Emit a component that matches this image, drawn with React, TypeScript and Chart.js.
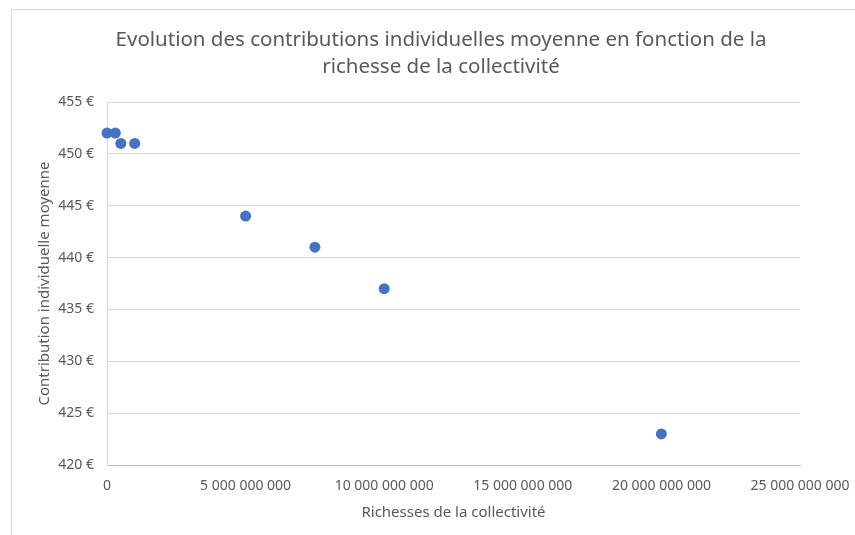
import React, { useEffect, useRef } from "react";
import { Chart, registerables } from "chart.js";

Chart.register(...registerables);

const TITLE = [
  "Evolution des contributions individuelles moyenne en fonction de la",
  "richesse de la collectivité",
];
const X_TITLE = "Richesses de la collectivité";
const Y_TITLE = "Contribution individuelle moyenne";

const richesses = [0, 300000000, 500000000, 1000000000, 5000000000, 7500000000, 10000000000, 20000000000];
const contributions = [452, 452, 451, 451, 444, 441, 437, 423];

const X_MIN = 0;
const X_MAX = 25000000000;
const X_STEP = 5000000000;
const Y_MIN = 420;
const Y_MAX = 455;
const Y_STEP = 5;

const FONT = "'Noto Sans', 'Open Sans', sans-serif";
const TEXT = "#595959";

function spaced(n: number): string {
  return Math.round(n).toString().replace(/\B(?=(\d{3})+(?!\d))/g, " ");
}

const titlePlugin = {
  id: "centredTitle",
  afterDraw(chart: any) {
    const ctx = chart.ctx;
    ctx.save();
    ctx.fillStyle = TEXT;
    ctx.font = `20.5px ${FONT}`;
    ctx.textAlign = "center";
    ctx.textBaseline = "middle";
    TITLE.forEach((line, i) => {
      ctx.fillText(line, 441, 40 + i * 27);
    });
    ctx.restore();
  },
};

export default function App() {
  const ref = useRef<HTMLCanvasElement | null>(null);

  useEffect(() => {
    if (!ref.current) return;
    const chart = new Chart(ref.current, {
      type: "scatter",
      data: {
        datasets: [
          {
            label: "Contribution",
            data: richesses.map((x, i) => ({ x, y: contributions[i] })),
            backgroundColor: "#4472C4",
            borderColor: "#4472C4",
            pointRadius: 5.5,
            pointHoverRadius: 5.5,
            borderWidth: 0,
            clip: false,
          },
        ],
      },
      options: {
        responsive: false,
        animation: false,
        layout: { padding: { left: 0, right: 55, top: 102, bottom: 0 } },
        plugins: {
          legend: { display: false },
          tooltip: { enabled: false },
          title: { display: false },
        },
        scales: {
          x: {
            type: "linear",
            min: X_MIN,
            max: X_MAX,
            afterFit: (s: any) => {
              s.height = 70;
              s.paddingLeft = 0;
              s.paddingRight = 0;
            },
            ticks: {
              stepSize: X_STEP,
              color: TEXT,
              font: { family: FONT, size: 14 },
              padding: 13,
              maxRotation: 0,
              callback: (v: any) => spaced(Number(v)),
            },
            grid: { display: false, drawTicks: false },
            border: { display: true, color: "#bfbfbf", width: 1 },
            title: {
              display: true,
              text: X_TITLE,
              color: TEXT,
              font: { family: FONT, size: 15 },
              padding: { top: 0, bottom: 13 },
            },
          },
          y: {
            type: "linear",
            min: Y_MIN,
            max: Y_MAX,
            afterFit: (s: any) => {
              s.width = 107;
            },
            ticks: {
              stepSize: Y_STEP,
              color: TEXT,
              font: { family: FONT, size: 14 },
              padding: 13,
              callback: (v: any) => `${v} €`,
            },
            grid: { color: "#d9d9d9", drawTicks: false, lineWidth: 1 },
            border: { display: true, color: "#d9d9d9", width: 1 },
            title: {
              display: true,
              text: Y_TITLE,
              color: TEXT,
              font: { family: FONT, size: 15 },
              padding: { top: 36, bottom: 0 },
            },
          },
        },
      },
      plugins: [titlePlugin],
    });
    return () => chart.destroy();
  }, []);

  return (
    <div
      style={{
        position: "fixed",
        left: 0,
        top: 0,
        width: 855,
        height: 535,
        overflow: "hidden",
        background: "#fff",
      }}
    >
      <div
        style={{
          position: "absolute",
          left: 11,
          top: 9,
          width: 900,
          height: 600,
          border: "1px solid #d9d9d9",
          boxSizing: "border-box",
        }}
      />
      <canvas
        ref={ref}
        width={855}
        height={535}
        style={{ position: "absolute", left: 0, top: 0, width: 855, height: 535 }}
      />
    </div>
  );
}
